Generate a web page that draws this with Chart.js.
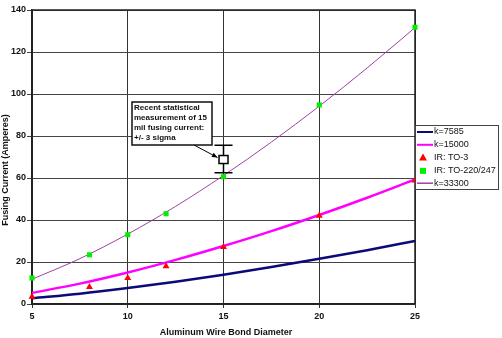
<!DOCTYPE html>
<html>
<head>
<meta charset="utf-8">
<script src="https://cdn.jsdelivr.net/npm/chart.js@4.4.1/dist/chart.umd.min.js"></script>
<style>
html,body{margin:0;padding:0;background:#fff;}
#wrap{width:502px;height:338px;position:relative;}
</style>
</head>
<body>
<div id="wrap"><canvas id="c" width="502" height="338"></canvas></div>
<script>
// Curve sample diameters (mil) and fusing currents (A)
const curveD = [5, 7.5, 10, 12.5, 15, 17.5, 20, 22.5, 25];
const k7585 = [2.7, 4.9, 7.6, 10.6, 13.9, 17.6, 21.5, 25.6, 30.0];
const k15000 = [5.3, 9.7, 15.0, 21.0, 27.6, 34.7, 42.4, 50.6, 59.3];
const k33300 = [11.8, 21.6, 33.3, 46.5, 61.2, 77.1, 94.2, 112.4, 131.6];

// Measured points
const to3D = [5, 8, 10, 12, 15, 20, 25];
const to3I = [3.4, 8.1, 12.4, 18.0, 27.2, 42.0, 58.8];
const to220D = [5, 8, 10, 12, 15, 20, 25];
const to220I = [12.4, 23.4, 33.0, 43.0, 60.6, 94.8, 131.8];

// Error bar (15 mil measurement, +/- 3 sigma)
const errD = [15];
const errMean = [68.8];
const errLow = [62.5];
const errHigh = [75.6];

const xTicks = [5, 10, 15, 20, 25];
const yTicks = [0, 20, 40, 60, 80, 100, 120, 140];

const noteLines = ["Recent statistical", "measurement of 15", "mil fusing current:", "+/- 3 sigma"];
const seriesNames = ["k=7585", "k=15000", "IR: TO-3", "IR: TO-220/247", "k=33300"];

const pts = (xs, ys) => xs.map((x, i) => ({x: x, y: ys[i]}));
const FONT = "'Liberation Sans', Arial, sans-serif";

const extras = {
  id: 'extras',
  beforeDatasetsDraw(chart) {
    const ctx = chart.ctx, a = chart.chartArea;
    ctx.save();
    ctx.strokeStyle = '#222';
    ctx.lineWidth = 1.5;
    ctx.strokeRect(a.left, a.top, a.right - a.left, a.bottom - a.top);
    ctx.restore();
  },
  afterDatasetsDraw(chart) {
    const ctx = chart.ctx, a = chart.chartArea;
    const xs = chart.scales.x, ys = chart.scales.y;
    ctx.save();
    // error bar
    for (let i = 0; i < errD.length; i++) {
      const px = xs.getPixelForValue(errD[i]);
      const pm = ys.getPixelForValue(errMean[i]);
      const pl = ys.getPixelForValue(errLow[i]);
      const ph = ys.getPixelForValue(errHigh[i]);
      ctx.strokeStyle = '#000';
      ctx.lineWidth = 1.5;
      ctx.beginPath();
      ctx.moveTo(px, ph); ctx.lineTo(px, pl);
      ctx.moveTo(px - 9, ph); ctx.lineTo(px + 9, ph);
      ctx.moveTo(px - 9, pl); ctx.lineTo(px + 9, pl);
      ctx.stroke();
      ctx.fillStyle = '#fff';
      ctx.fillRect(px - 4.5, pm - 4, 9, 8);
      ctx.strokeRect(px - 4.5, pm - 4, 9, 8);
      // arrow from note box
      const ax0 = 194, ay0 = 145, ax1 = px - 6, ay1 = pm - 2;
      ctx.lineWidth = 1;
      ctx.beginPath(); ctx.moveTo(ax0, ay0); ctx.lineTo(ax1, ay1); ctx.stroke();
      const ang = Math.atan2(ay1 - ay0, ax1 - ax0);
      ctx.fillStyle = '#000';
      ctx.beginPath();
      ctx.moveTo(ax1, ay1);
      ctx.lineTo(ax1 - 6 * Math.cos(ang - 0.4), ay1 - 6 * Math.sin(ang - 0.4));
      ctx.lineTo(ax1 - 6 * Math.cos(ang + 0.4), ay1 - 6 * Math.sin(ang + 0.4));
      ctx.closePath(); ctx.fill();
    }
    // note box
    ctx.fillStyle = '#fff';
    ctx.fillRect(132, 102, 80, 43);
    ctx.strokeStyle = '#111';
    ctx.lineWidth = 1.5;
    ctx.strokeRect(132, 102, 80, 43);
    ctx.fillStyle = '#111';
    ctx.font = 'bold 8px ' + FONT;
    ctx.textBaseline = 'middle';
    ctx.textAlign = 'left';
    noteLines.forEach((t, i) => ctx.fillText(t, 134, 108 + i * 10));

    // legend
    const lx = 415, ly = 125, lw = 83, lh = 64;
    ctx.fillStyle = '#fff';
    ctx.fillRect(lx, ly, lw, lh);
    ctx.strokeStyle = '#444';
    ctx.lineWidth = 1;
    ctx.strokeRect(lx + 0.5, ly + 0.5, lw, lh);
    ctx.font = '9px ' + FONT;
    const order = [0, 1, 2, 3, 4];
    order.forEach((di, r) => {
      const ds = chart.data.datasets[di];
      const y = ly + 7 + r * 12.8;
      if (ds.showLine) {
        ctx.strokeStyle = ds.borderColor;
        ctx.lineWidth = di === 4 ? 1.5 : 2;
        ctx.beginPath(); ctx.moveTo(417, y); ctx.lineTo(433, y); ctx.stroke();
      } else {
        ctx.fillStyle = ds.backgroundColor;
        if (ds.pointStyle === 'triangle') {
          ctx.beginPath(); ctx.moveTo(423, y - 4); ctx.lineTo(427, y + 3); ctx.lineTo(419, y + 3); ctx.closePath(); ctx.fill();
        } else {
          ctx.fillRect(420, y - 2.5, 6, 6);
        }
      }
      ctx.fillStyle = '#111';
      ctx.fillText(ds.label, 434, y);
    });

    // axis titles
    ctx.font = 'bold 9px ' + FONT;
    ctx.fillStyle = '#111';
    ctx.textAlign = 'center';
    ctx.fillText('Aluminum Wire Bond Diameter', 226, 333);
    ctx.translate(6, 170);
    ctx.rotate(-Math.PI / 2);
    ctx.fillText('Fusing Current (Amperes)', 0, 0);
    ctx.restore();
  }
};

new Chart(document.getElementById('c'), {
  type: 'scatter',
  data: {
    datasets: [
      {label: seriesNames[0], data: pts(curveD, k7585), showLine: true, borderColor: '#0a0a78', borderWidth: 2.5, pointRadius: 0, cubicInterpolationMode: 'monotone', order: 3},
      {label: seriesNames[1], data: pts(curveD, k15000), showLine: true, borderColor: '#ff00ff', borderWidth: 2.5, pointRadius: 0, cubicInterpolationMode: 'monotone', order: 3},
      {label: seriesNames[2], data: pts(to3D, to3I), showLine: false, pointStyle: 'triangle', backgroundColor: '#ff0000', borderColor: '#ff0000', borderWidth: 0, pointRadius: 4, clip: false, order: 1},
      {label: seriesNames[3], data: pts(to220D, to220I), showLine: false, pointStyle: 'rect', backgroundColor: '#00ee00', borderColor: '#00ee00', borderWidth: 0, pointRadius: 3.6, clip: false, order: 1},
      {label: seriesNames[4], data: pts(curveD, k33300), showLine: true, borderColor: '#a040a0', borderWidth: 1, pointRadius: 0, cubicInterpolationMode: 'monotone', order: 2}
    ]
  },
  options: {
    responsive: false,
    animation: false,
    layout: {padding: {left: 0, top: 10, right: 87, bottom: 0}},
    plugins: {legend: {display: false}, tooltip: {enabled: false}},
    scales: {
      x: {
        type: 'linear', min: 5, max: 25,
        afterBuildTicks: s => { s.ticks = xTicks.map(v => ({value: v})); },
        afterFit: s => { s.height = 34; },
        grid: {color: '#333', lineWidth: 1, tickLength: 4, drawTicks: true},
        border: {display: true, color: '#222', width: 1.5},
        ticks: {font: {family: FONT, size: 9, weight: 'bold'}, color: '#111', padding: 3, maxRotation: 0}
      },
      y: {
        type: 'linear', min: 0, max: 140,
        afterBuildTicks: s => { s.ticks = yTicks.map(v => ({value: v})); },
        afterFit: s => { s.width = 32; },
        grid: {color: '#444', lineWidth: 1, tickLength: 5, drawTicks: true},
        border: {display: true, color: '#222', width: 1.5},
        ticks: {font: {family: FONT, size: 9, weight: 'bold'}, color: '#111', padding: 1}
      }
    }
  },
  plugins: [extras]
});
</script>
</body>
</html>
